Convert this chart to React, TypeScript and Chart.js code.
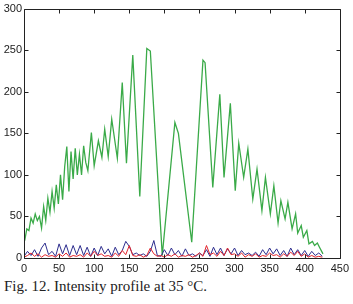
import React, { useEffect, useRef } from "react";
import { Chart, registerables } from "chart.js";

Chart.register(...registerables);

const greenX = [1, 4, 7, 10, 13, 16, 19, 22, 25, 28, 31, 34, 37, 40, 43, 46, 49, 52, 55, 58, 61, 64, 67, 70, 73, 76, 79, 82, 85, 88, 91, 96, 100, 106, 111, 115, 120, 125, 133, 140, 146, 155, 165, 175, 180, 197, 215, 220, 239, 255, 258, 269, 279, 285, 294, 301, 306, 313, 319, 326, 332, 339, 344, 351, 356, 362, 366, 372, 376, 382, 387, 390, 395, 398, 403, 406, 411, 414, 418, 421, 426];
const greenY = [21, 35, 33, 48, 42, 53, 45, 50, 36, 62, 45, 72, 55, 80, 60, 88, 65, 100, 70, 110, 134, 80, 128, 95, 132, 100, 125, 100, 135, 115, 105, 151, 111, 141, 121, 155, 122, 167, 120, 211, 114, 244, 74, 252, 249, 3, 163, 150, 19, 238, 235, 85, 197, 97, 186, 81, 138, 97, 131, 71, 107, 57, 97, 53, 87, 42, 69, 47, 67, 35, 53, 30, 39, 25, 33, 17, 20, 15, 18, 13, 5];

const noiseX = [0, 5, 10, 15, 20, 25, 30, 35, 40, 45, 50, 55, 60, 65, 70, 75, 80, 85, 90, 95, 100, 105, 110, 115, 120, 125, 130, 135, 140, 145, 150, 155, 160, 165, 170, 175, 180, 185, 190, 195, 200, 205, 210, 215, 220, 225, 230, 235, 240, 245, 250, 255, 260, 265, 270, 275, 280, 285, 290, 295, 300, 305, 310, 315, 320, 325, 330, 335, 340, 345, 350, 355, 360, 365, 370, 375, 380, 385, 390, 395, 400, 405, 410, 415, 420, 425];
const blueY = [2, 8, 3, 10, 2, 12, 18, 4, 8, 2, 17, 5, 16, 3, 15, 4, 15, 3, 13, 2, 12, 3, 14, 5, 11, 2, 13, 4, 9, 20, 14, 4, 6, 3, 5, 2, 8, 21, 3, 2, 10, 3, 12, 4, 9, 2, 11, 3, 5, 2, 6, 3, 10, 2, 13, 4, 12, 3, 11, 5, 12, 3, 9, 4, 6, 3, 7, 2, 10, 4, 12, 5, 11, 3, 9, 2, 12, 4, 10, 3, 9, 2, 8, 3, 6, 2];
const redY = [1, 3, 6, 2, 5, 1, 4, 2, 3, 1, 5, 2, 6, 1, 3, 2, 4, 1, 6, 2, 8, 3, 5, 2, 3, 1, 6, 2, 9, 4, 15, 3, 2, 4, 1, 3, 12, 5, 2, 3, 1, 4, 2, 5, 1, 3, 2, 4, 1, 3, 6, 2, 15, 4, 6, 2, 8, 3, 12, 4, 5, 2, 6, 1, 4, 2, 5, 1, 3, 2, 6, 3, 4, 1, 5, 2, 7, 3, 8, 2, 5, 1, 3, 1, 2, 1];

const xTicks = [0, 50, 100, 150, 200, 250, 300, 350, 400, 450];
const yTicks = [0, 50, 100, 150, 200, 250, 300];

const boxPlugin = {
  id: "boxTicks",
  afterDraw(chart: any) {
    const { ctx, chartArea } = chart;
    const xs = chart.scales.x;
    const ys = chart.scales.y;
    const L = Math.round(chartArea.left) + 0.5;
    const R = Math.round(chartArea.right) + 0.5;
    const T = Math.round(chartArea.top) + 0.5;
    const B = Math.round(chartArea.bottom) + 0.5;
    ctx.save();
    ctx.strokeStyle = "#222";
    ctx.lineWidth = 1;
    ctx.beginPath();
    ctx.rect(L, T, R - L, B - T);
    const tl = 4;
    xTicks.forEach((v) => {
      const px = Math.round(xs.getPixelForValue(v)) + 0.5;
      ctx.moveTo(px, B);
      ctx.lineTo(px, B - tl);
      ctx.moveTo(px, T);
      ctx.lineTo(px, T + tl);
    });
    yTicks.forEach((v) => {
      const py = Math.round(ys.getPixelForValue(v)) + 0.5;
      ctx.moveTo(L, py);
      ctx.lineTo(L + tl, py);
      ctx.moveTo(R, py);
      ctx.lineTo(R - tl, py);
    });
    ctx.stroke();
    ctx.restore();
  },
};

export default function App() {
  const ref = useRef<HTMLCanvasElement>(null);
  useEffect(() => {
    document.body.style.margin = "0";
    const toPts = (xa: number[], ya: number[]) => xa.map((x, i) => ({ x, y: ya[i] }));
    const chart = new Chart(ref.current!, {
      type: "line",
      data: {
        datasets: [
          { data: toPts(noiseX, redY), borderColor: "#e3242b", borderWidth: 1, pointRadius: 0, tension: 0 },
          { data: toPts(noiseX, blueY), borderColor: "#2e2e8e", borderWidth: 1, pointRadius: 0, tension: 0 },
          { data: toPts(greenX, greenY), borderColor: "#3aaa48", borderWidth: 1.3, pointRadius: 0, tension: 0 },
        ],
      },
      options: {
        animation: false,
        responsive: false,
        maintainAspectRatio: false,
        layout: { padding: { left: 0, right: 12, top: 7, bottom: 0 } },
        plugins: { legend: { display: false }, tooltip: { enabled: false } },
        scales: {
          x: {
            type: "linear",
            min: 0,
            max: 450,
            afterBuildTicks: (s: any) => { s.ticks = xTicks.map((v) => ({ value: v })); },
            afterFit: (s: any) => { s.height = 17; },
            grid: { display: false, drawTicks: false },
            border: { display: false },
            ticks: { padding: 4, color: "#222", font: { family: "Liberation Sans, Arial", size: 11 }, maxRotation: 0 },
          },
          y: {
            type: "linear",
            min: 0,
            max: 300,
            afterBuildTicks: (s: any) => { s.ticks = yTicks.map((v) => ({ value: v })); },
            afterFit: (s: any) => { s.width = 24; },
            grid: { display: false, drawTicks: false },
            border: { display: false },
            ticks: { padding: 2, color: "#222", font: { family: "Liberation Sans, Arial", size: 11 } },
          },
        },
      },
      plugins: [boxPlugin],
    });
    return () => chart.destroy();
  }, []);
  return (
    <div style={{ position: "relative", width: 353, height: 304, background: "#fff" }}>
      <canvas ref={ref} width={353} height={275} style={{ position: "absolute", left: 0, top: 0 }} />
      <div
        style={{
          position: "absolute",
          left: 4,
          top: 278,
          fontFamily: "'Liberation Serif', 'Times New Roman', serif",
          fontSize: 15,
          color: "#222",
          whiteSpace: "nowrap",
        }}
      >
        Fig. 12. Intensity profile at 35 °C.
      </div>
    </div>
  );
}
